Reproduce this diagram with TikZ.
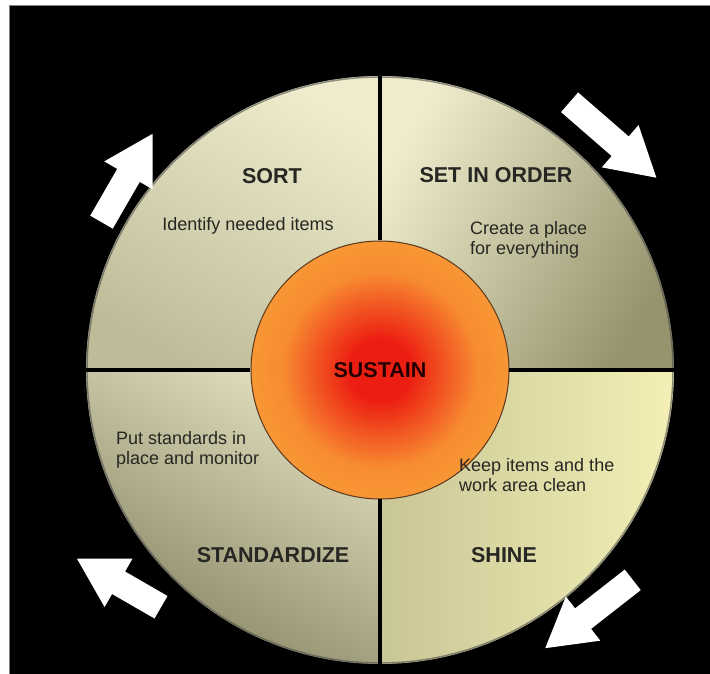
\documentclass[tikz,border=0pt]{standalone}
\usepackage{fontspec}
\setmainfont{Liberation Sans}
\definecolor{crema}{RGB}{238,236,204}
\definecolor{amarillo}{RGB}{243,239,182}
\definecolor{oliva}{RGB}{150,148,110}
\definecolor{textoscuro}{RGB}{38,38,34}
\definecolor{rojo}{RGB}{236,30,18}
\definecolor{naranja}{RGB}{248,150,52}
\definecolor{borde}{RGB}{90,55,30}
\pgfdeclareradialshading{nucleo}{\pgfpoint{0bp}{0bp}}{color(0bp)=(rojo); color(6bp)=(rojo);
  color(19bp)=(naranja!92!rojo); color(25bp)=(naranja); color(50bp)=(naranja)}
\begin{document}
\begin{tikzpicture}[x=1pt, y=1pt, line cap=round, line join=round,
  titulo/.style={font=\fontsize{21.5}{24}\selectfont\bfseries, text=textoscuro},
  nota/.style={font=\fontsize{18}{20}\selectfont, text=textoscuro, align=left}]
  \useasboundingbox (-380,-304) rectangle (330,370);
  % fondo blanco y recuadro negro
  \fill[white] (-380,-304) rectangle (330,370);
  \fill[black] (-370,-304) rectangle (330,364);
  \draw[gray, line width=1pt, line cap=butt] (-370,-304) -- (-370,364) -- (330,364);
  % los cuatro cuadrantes
  \shade[top color=crema, bottom color=oliva!55!crema, shading angle=-30]
    (0,0) -- (-294,0) arc[start angle=180, end angle=90, radius=294] -- cycle;
  \shade[top color=crema, bottom color=oliva, shading angle=60]
    (0,0) -- (0,294) arc[start angle=90, end angle=0, radius=294] -- cycle;
  \shade[top color=crema!85!oliva, bottom color=oliva!90!black, shading angle=-30]
    (0,0) -- (0,-294) arc[start angle=270, end angle=180, radius=294] -- cycle;
  \shade[top color=amarillo, bottom color=oliva!45!amarillo, shading angle=-90]
    (0,0) -- (294,0) arc[start angle=0, end angle=-90, radius=294] -- cycle;
  \draw[black!70, line width=1.5pt, opacity=.6] (0,0) circle[radius=293];
  % borde exterior y centro
  \node[circle, minimum size=588pt, inner sep=0pt, outer sep=0pt] (rim) at (0,0) {};
  \node[circle, minimum size=258pt, inner sep=0pt, shade, shading=nucleo,
    draw=borde, line width=1pt, titulo, text=black!85!red] (hub) at (0,0) {SUSTAIN};
  % las lineas que separan
  \foreach \a in {north,south,east,west} {
    \draw[line width=4pt, line cap=butt] (hub.\a) -- (rim.\a);
  }
  % textos
  \node[titulo] (sort) at (-108,194) {SORT};
  \node[titulo] (setorder) at (116,195) {SET IN ORDER};
  \node[titulo] (standardize) at (-107,-185) {STANDARDIZE};
  \node[titulo] (shine) at (124,-185) {SHINE};
  \node[nota] (sortnote) at (-132,144) {Identify needed items};
  \node[nota, anchor=west, inner sep=0pt] (ordernote) at (90,130) {Create a place\\for everything};
  \node[nota, anchor=west, inner sep=0pt] (standardnote) at (-264,-80) {Put standards in\\place and monitor};
  \node[nota, anchor=west, inner sep=0pt] (shinenote) at (79,-105) {Keep items and the\\work area clean};
  % flechas blancas alrededor
  \foreach \cx/\cy/\ang/\len in {-253/192/60/102, 233/230/-41/115, -261/-213/150/97, 209/-244/218/111} {
    \fill[white, shift={(\cx,\cy)}, rotate=\ang]
      ({-\len/2},-13) -- ({\len/2-48},-13) -- ({\len/2-48},-28) -- ({\len/2},0)
      -- ({\len/2-48},28) -- ({\len/2-48},13) -- ({-\len/2},13) -- cycle;
  }
\end{tikzpicture}
\end{document}
